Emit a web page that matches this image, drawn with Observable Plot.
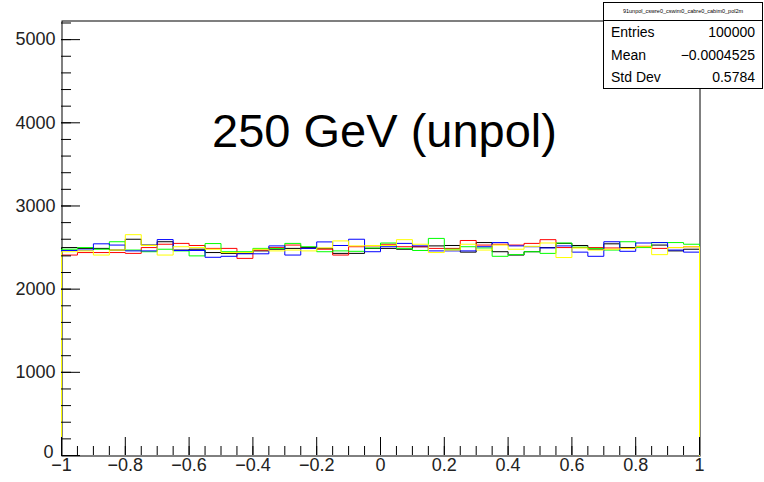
<!DOCTYPE html>
<html>
<head>
<meta charset="utf-8">
<script src="https://cdn.jsdelivr.net/npm/d3@7"></script>
<script src="https://cdn.jsdelivr.net/npm/@observablehq/plot@0.6"></script>
<style>
  body { margin: 0; background: #fff; font-family: "Liberation Sans", Arial, sans-serif; }
  #wrap { position: relative; width: 764px; height: 482px; }
  #stats { position: absolute; left: 603px; top: 2px; width: 158px; height: 85px; border: 1px solid #000; background: #fff; box-sizing: content-box; }
  #stats .ttl { height: 17px; border-bottom: 1px solid #000; font-size: 5.5px; line-height: 17px; text-align: center; white-space: nowrap; overflow: hidden; }
  #stats .row { display: flex; justify-content: space-between; height: 22.5px; line-height: 22.5px; font-size: 14px; padding: 0 7px 0 7px; }
</style>
</head>
<body>
<div id="wrap"></div>
<script>
// ---- data ----
const histName = "91unpol_cswre0_cswim0_cabre0_cabim0_pol2m";
const title = "250 GeV (unpol)";
const statLabels = ["Entries", "Mean", "Std Dev"];
const statValues = ["100000", "\u22120.0004525", "0.5784"];

const seriesNames = ["black", "red", "green", "blue", "yellow"];
const seriesColors = ["#000000", "#ff0000", "#00ff00", "#0000ff", "#ffff00"];

// bin contents, 40 bins from -1 to 1
const blackVals = [2500,2490,2490,2470,2600,2530,2570,2470, 2480,2440,2430,2430,2460,2480,2490,2500,
                   2490,2430,2430,2490,2490,2480,2510,2520, 2525,2445,2560,2450,2410,2450,2500,2550,
                   2525,2480,2545,2500,2505,2530,2460,2480];
const redVals   = [2410,2440,2440,2440,2430,2500,2540,2550, 2525,2490,2490,2370,2470,2500,2530,2490,
                   2480,2410,2510,2520,2540,2510,2510,2490, 2490,2585,2530,2540,2530,2550,2595,2500,
                   2500,2500,2495,2490,2515,2490,2500,2510];
const greenVals = [2480,2500,2480,2570,2470,2450,2480,2460, 2400,2548,2450,2450,2490,2490,2550,2510,
                   2450,2460,2455,2495,2555,2490,2465,2610, 2480,2510,2495,2395,2415,2450,2430,2555,
                   2505,2490,2470,2570,2500,2560,2560,2540];
const blueVals  = [2465,2470,2545,2530,2460,2460,2596,2465, 2465,2383,2395,2425,2425,2520,2410,2490,
                   2568,2525,2600,2450,2510,2550,2520,2460, 2460,2460,2510,2560,2520,2510,2495,2520,
                   2445,2395,2570,2455,2555,2560,2470,2445];
const yellowVals= [2450,2460,2410,2470,2655,2525,2410,2510, 2500,2480,2440,2440,2480,2460,2470,2460,
                   2496,2580,2520,2525,2525,2595,2540,2440, 2470,2540,2470,2530,2480,2515,2555,2380,
                   2495,2470,2480,2490,2510,2415,2500,2510];
const seriesVals = [blackVals, redVals, greenVals, blueVals, yellowVals];

const xMajor = [-1, -0.8, -0.6, -0.4, -0.2, 0, 0.2, 0.4, 0.6, 0.8, 1];
const xMinor = d3.range(-1, 1.0001, 0.05).map(d => +d.toFixed(2));
const yMajor = [0, 1000, 2000, 3000, 4000, 5000];
const yMinor = d3.range(0, 5201, 200);

// ---- build step outlines ----
const binLow = -1, binWidth = 0.05;
function outline(vals) {
  const pts = [{x: binLow, v: 0}];
  vals.forEach((v, i) => pts.push({x: binLow + i * binWidth, v}));
  pts.push({x: binLow + vals.length * binWidth, v: 0});
  return pts;
}

const frameW = 764 - 61 - 65, frameH = 482 - 20 - 27;

const lineMarks = seriesVals.map((vals, i) =>
  Plot.line(outline(vals), {x: "x", y: "v", curve: "step-after", stroke: seriesColors[i], strokeWidth: 1})
);

const chart = Plot.plot({
  width: 764,
  height: 482,
  marginLeft: 61,
  marginRight: 65,
  marginTop: 20,
  marginBottom: 27,
  x: {domain: [-1, 1], label: null},
  y: {domain: [0, 5230], label: null},
  style: {fontFamily: "'Liberation Sans', Arial, sans-serif", fontSize: "18px", background: "white", color: "black"},
  marks: [
    Plot.frame({stroke: "black", strokeWidth: 1, dx: 0.5, dy: 0.5}),
    ...lineMarks,
    Plot.tickY(yMinor, {y: d => d, stroke: "black", insetRight: frameW - 10}),
    Plot.tickY(yMajor, {y: d => d, stroke: "black", insetRight: frameW - 19}),
    Plot.tickX(xMinor, {x: d => d, stroke: "black", insetTop: frameH - 9}),
    Plot.tickX(xMajor, {x: d => d, stroke: "black", insetTop: frameH - 18}),
    Plot.axisY({ticks: yMajor.filter(d => d > 0), tickSize: 0, tickPadding: 6, tickFormat: d3.format("d"), fill: "#222"}),
    Plot.axisY({ticks: [0], tickSize: 0, tickPadding: 8, dy: -3, tickFormat: d3.format("d"), fill: "#222"}),
    Plot.axisX({ticks: xMajor, tickSize: 0, tickPadding: 3, tickFormat: d3.format("~g"), fill: "#222"}),
    Plot.text([title], {frameAnchor: "top", dx: 4, dy: 93, lineAnchor: "top", fontSize: 47, fill: "black"})
  ]
});

const wrap = document.getElementById("wrap");
wrap.appendChild(chart);

const stats = document.createElement("div");
stats.id = "stats";
let html = `<div class="ttl">${histName}</div>`;
statLabels.forEach((l, i) => { html += `<div class="row"><span>${l}</span><span>${statValues[i]}</span></div>`; });
stats.innerHTML = html;
wrap.appendChild(stats);
</script>
</body>
</html>
